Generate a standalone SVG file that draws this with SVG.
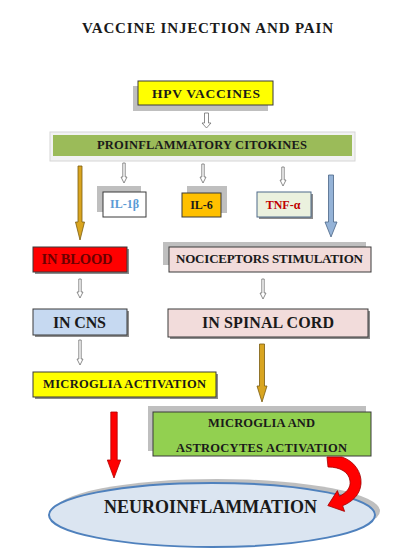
<svg xmlns="http://www.w3.org/2000/svg" width="400" height="556" viewBox="0 0 400 556">
<style>
text{font-family:"Liberation Serif","Times New Roman",serif;font-weight:bold;text-anchor:middle;fill:#1a1a1a}
.box{stroke:#3a3a3a;stroke-width:1}
.sh{fill:#bfbfbf}
.dsh{fill:#8c8c8c}
.thin{fill:#fff;stroke:#6e6e6e;stroke-width:0.8}
</style>
<rect width="400" height="556" fill="#fff"/>
<text x="207.5" y="33" font-size="15" textLength="251">VACCINE INJECTION AND PAIN</text>

<g id="hpv">
  <rect class="sh" x="133" y="86" width="135" height="25"/>
  <rect class="box" x="138" y="81" width="135" height="24" fill="#ffff00"/>
  <text x="206" y="98" font-size="13.5" textLength="108">HPV VACCINES</text>
</g>
<g id="proinflammatory">
  <rect x="50" y="132" width="305" height="29" fill="#f2f2f2" stroke="#d6d6d6" stroke-width="1"/>
  <rect x="53" y="135" width="299" height="21" fill="#9bbb59"/>
  <text x="202" y="149" font-size="12.5" textLength="210">PROINFLAMMATORY CITOKINES</text>
</g>
<g id="il1b">
  <rect class="sh" x="97" y="186" width="44" height="26"/>
  <rect class="box" x="103" y="192" width="43" height="25" fill="#ffffff"/>
  <text x="124.5" y="208" font-size="12" style="fill:#5b9bd5">IL-1β</text>
</g>
<g id="il6">
  <rect class="sh" x="187" y="186" width="40" height="27"/>
  <rect class="box" x="182" y="193" width="39" height="24" fill="#ffc000"/>
  <text x="201.5" y="209" font-size="12">IL-6</text>
</g>
<g id="tnf">
  <rect class="dsh" x="259" y="194" width="54" height="25"/>
  <rect x="257" y="192" width="54" height="25" fill="#ebf1de" stroke="#4f6a8a" stroke-width="1"/>
  <text x="283" y="209" font-size="12" style="fill:#c00000">TNF-α</text>
</g>
<g id="inblood">
  <rect class="dsh" x="35" y="249" width="94" height="25"/>
  <rect class="box" x="33" y="247" width="94" height="25" fill="#ff0000"/>
  <text x="77" y="264" font-size="14.5" textLength="71" style="fill:#6b0000">IN BLOOD</text>
</g>
<g id="nociceptors">
  <rect class="sh" x="163" y="242" width="203" height="23"/>
  <rect class="box" x="169" y="247" width="202" height="25" fill="#f2dcdb"/>
  <text x="269.5" y="263" font-size="13" textLength="187">NOCICEPTORS STIMULATION</text>
</g>
<g id="incns">
  <rect class="dsh" x="35" y="311" width="94" height="26"/>
  <rect class="box" x="33" y="309" width="94" height="26" fill="#c6d9f1"/>
  <text x="79.5" y="328" font-size="16" textLength="53">IN CNS</text>
</g>
<g id="spinalcord">
  <rect class="dsh" x="170" y="311" width="200" height="28"/>
  <rect class="box" x="168" y="309" width="200" height="28" fill="#f2dcdb"/>
  <text x="268" y="328" font-size="16" textLength="132">IN SPINAL CORD</text>
</g>
<g id="microglia">
  <rect class="dsh" x="35" y="374" width="183" height="25"/>
  <rect class="box" x="33" y="372" width="183" height="25" fill="#ffff00"/>
  <text x="124.5" y="388" font-size="12.5" textLength="163">MICROGLIA ACTIVATION</text>
</g>
<g id="astrocytes">
  <rect class="sh" x="148" y="406" width="218" height="45"/>
  <rect class="box" x="153" y="412" width="218" height="44" fill="#92d050"/>
  <text x="261.5" y="427" font-size="12.5" textLength="107">MICROGLIA AND</text>
  <text x="261.5" y="452" font-size="12.5" textLength="171">ASTROCYTES ACTIVATION</text>
</g>
<g id="neuroinflammation">
  <ellipse cx="217" cy="511" rx="163" ry="32" fill="#bfbfbf"/>
  <ellipse cx="212" cy="515" rx="163" ry="32" fill="#dbe5f1" stroke="#4f81bd" stroke-width="2"/>
  <text x="210.5" y="513" font-size="18" textLength="213">NEUROINFLAMMATION</text>
</g>

<g id="connectors">
  <path class="thin" d="M204.5 113 H208.5 V123 H211 L206.5 128 L202 123 H204.5 Z"/>
  <path class="thin" d="M122.8 163 H125.2 V177 H127 L124 183 L121 177 H122.8 Z"/>
  <path class="thin" d="M201.8 164 H204.2 V177 H206 L203 183 L200 177 H201.8 Z"/>
  <path class="thin" d="M281.8 167 H284.2 V180 H286 L283 186 L280 180 H281.8 Z"/>
  <path class="thin" d="M78.8 279 H81.2 V292 H83 L80 298 L77 292 H78.8 Z"/>
  <path class="thin" d="M261.8 279 H264.2 V293 H266 L263 299 L260 293 H261.8 Z"/>
  <path class="thin" d="M78.8 340 H81.2 V359 H83 L80 365 L77 359 H78.8 Z"/>
  <path d="M78 166 H82 V222 H84.5 L80 240 L75.5 222 H78 Z" fill="#d9a520" stroke="#7a5c10" stroke-width="0.8"/>
  <path d="M328.5 175 H333.5 V222 H337 L331 237 L325 222 H328.5 Z" fill="#95b3d7" stroke="#4a6585" stroke-width="0.8"/>
  <path d="M259.5 344 H264.5 V386 H267 L262 402 L257 386 H259.5 Z" fill="#d9a520" stroke="#7a5c10" stroke-width="0.8"/>
  <path d="M110.8 412 H117.2 V460 H120.7 L114 478 L107.3 460 H110.8 Z" fill="#ff0000" stroke="#b00000" stroke-width="0.8"/>
  <path d="M327 457 L342 457 C354 461 362 472 361 484 C360 495 352 502 342.6 505.7 L344.6 511.4 L327.8 505.6 L337.4 490.6 L339.4 496.3 C346 493 351 488 350 481 C349 472 340 467 328 467 Z" fill="#ff0000" stroke="#a00000" stroke-width="0.8"/>
</g>
</svg>
